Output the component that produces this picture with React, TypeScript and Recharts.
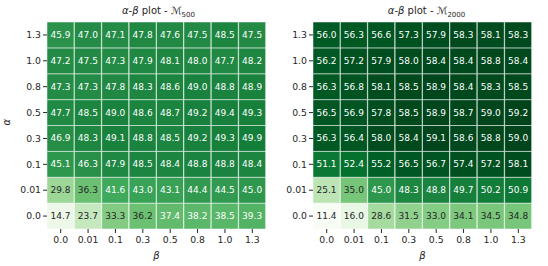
import { BarChart, Bar, Cell, LabelList, XAxis, YAxis } from 'recharts';

// heatmap values, rows from top (alpha = 1.3) to bottom (alpha = 0.0), columns = beta
const betaLabels = ['0.0', '0.01', '0.1', '0.3', '0.5', '0.8', '1.0', '1.3'];
const alphaLabelsTopDown = ['1.3', '1.0', '0.8', '0.5', '0.3', '0.1', '0.01', '0.0'];

const m500 = [
  [45.9, 47.0, 47.1, 47.8, 47.6, 47.5, 48.5, 47.5],
  [47.2, 47.5, 47.3, 47.9, 48.1, 48.0, 47.7, 48.2],
  [47.3, 47.3, 47.8, 48.3, 48.6, 49.0, 48.8, 48.9],
  [47.7, 48.5, 49.0, 48.6, 48.7, 49.2, 49.4, 49.3],
  [46.9, 48.3, 49.1, 48.8, 48.5, 49.2, 49.3, 49.9],
  [45.1, 46.3, 47.9, 48.5, 48.4, 48.8, 48.8, 48.4],
  [29.8, 36.3, 41.6, 43.0, 43.1, 44.4, 44.5, 45.0],
  [14.7, 23.7, 33.3, 36.2, 37.4, 38.2, 38.5, 39.3],
];

const m2000 = [
  [56.0, 56.3, 56.6, 57.3, 57.9, 58.3, 58.1, 58.3],
  [56.2, 57.2, 57.9, 58.0, 58.4, 58.4, 58.8, 58.4],
  [56.3, 56.8, 58.1, 58.5, 58.9, 58.4, 58.3, 58.5],
  [56.5, 56.9, 57.8, 58.5, 58.9, 58.7, 59.0, 59.2],
  [56.3, 56.4, 58.0, 58.4, 59.1, 58.6, 58.8, 59.0],
  [51.1, 52.4, 55.2, 56.5, 56.7, 57.4, 57.2, 58.1],
  [25.1, 35.0, 45.0, 48.3, 48.8, 49.7, 50.2, 50.9],
  [11.4, 16.0, 28.6, 31.5, 33.0, 34.1, 34.5, 34.8],
];

const GREENS = ['#f7fcf5', '#e5f5e0', '#c7e9c0', '#a1d99b', '#74c476', '#41ab5d', '#238b45', '#006d2c', '#00441b'];

const allVals = [...m500.flat(), ...m2000.flat()];
const VMIN = Math.min(...allVals);
const VMAX = Math.max(...allVals);

const hexToRgb = (h: string) => [1, 3, 5].map((i) => parseInt(h.slice(i, i + 2), 16));

const cmap = (v: number) => {
  const t = Math.max(0, Math.min(1, (v - VMIN) / (VMAX - VMIN))) * (GREENS.length - 1);
  const i = Math.min(Math.floor(t), GREENS.length - 2);
  const f = t - i;
  const a = hexToRgb(GREENS[i]);
  const b = hexToRgb(GREENS[i + 1]);
  return a.map((c, k) => Math.round(c + (b[k] - c) * f));
};

const toCss = (rgb: number[]) => `rgb(${rgb[0]},${rgb[1]},${rgb[2]})`;

// same rule seaborn uses for annotation colour
const textColor = (rgb: number[]) => {
  const lin = rgb.map((c) => {
    const s = c / 255;
    return s <= 0.03928 ? s / 12.92 : Math.pow((s + 0.055) / 1.055, 2.4);
  });
  const lum = 0.2126 * lin[0] + 0.7152 * lin[1] + 0.0722 * lin[2];
  return lum > 0.408 ? '#262626' : '#ffffff';
};

// bottom-up stacking: stack 0 = alpha 0.0
const alphaBottomUp = [...alphaLabelsTopDown].reverse();

const buildRows = (m: number[][]) =>
  betaLabels.map((beta, c) => {
    const row: Record<string, string | number> = { beta };
    alphaBottomUp.forEach((_, s) => {
      row[`r${s}`] = 1;
      row[`v${s}`] = m[m.length - 1 - s][c];
    });
    return row;
  });

const font = 'DejaVu Sans, sans-serif';
const tickStyle = { fontSize: 9.3, fill: '#262626', fontFamily: font };

const Heatmap = ({ matrix, yAxisWidth, left }: { matrix: number[][]; yAxisWidth: number; left: number }) => {
  const data = buildRows(matrix);
  return (
    <div style={{ position: 'absolute', left, top: 0 }}>
      <BarChart
        width={270 + (yAxisWidth - 47)}
        height={266}
        data={data}
        margin={{ top: 22, right: 4, bottom: 0, left: 0 }}
        barCategoryGap={0}
        barGap={0}
      >
        <XAxis
          dataKey="beta"
          axisLine={false}
          tickLine={{ stroke: '#262626' }}
          tickSize={4}
          tick={{ ...tickStyle, dy: 1 }}
          height={37}
          interval={0}
          label={{ value: 'β', position: 'insideBottom', offset: 7, style: { fontSize: 10, fontStyle: 'italic', fill: '#262626', fontFamily: font } }}
        />
        <YAxis
          type="number"
          domain={[0, 8]}
          ticks={alphaBottomUp.map((_, i) => i + 0.5)}
          tickFormatter={(v: number) => alphaBottomUp[Math.floor(v)]}
          axisLine={false}
          tickLine={{ stroke: '#262626' }}
          tickSize={4}
          tick={tickStyle}
          width={yAxisWidth}
          interval={0}
          label={yAxisWidth > 42 ? { value: 'α', angle: -90, position: 'insideLeft', offset: 6, style: { fontSize: 10, fontStyle: 'italic', fill: '#262626', fontFamily: font } } : undefined}
        />
        {alphaBottomUp.map((_, s) => (
          <Bar key={s} dataKey={`r${s}`} stackId="a" isAnimationActive={false} stroke="#ffffff" strokeOpacity={0.7} strokeWidth={0.7}>
            {data.map((row, c) => (
              <Cell key={c} fill={toCss(cmap(row[`v${s}`] as number))} />
            ))}
            <LabelList
              dataKey={`v${s}`}
              content={(p: any) => {
                const v = Number(p.value);
                return (
                  <text
                    x={p.x + p.width / 2}
                    y={p.y + p.height / 2}
                    textAnchor="middle"
                    dominantBaseline="central"
                    fontSize={9}
                    fontFamily={font}
                    fill={textColor(cmap(v))}
                  >
                    {v.toFixed(1)}
                  </text>
                );
              }}
            />
          </Bar>
        ))}
      </BarChart>
    </div>
  );
};

const Title = ({ center, sub }: { center: number; sub: string }) => (
  <div
    style={{
      position: 'absolute',
      left: center - 80,
      width: 160,
      top: 5,
      textAlign: 'center',
      fontFamily: font,
      fontSize: 10,
      color: '#262626',
      whiteSpace: 'nowrap',
    }}
  >
    <i>α</i>-<i>β</i> plot - ℳ<sub style={{ fontSize: 7 }}>{sub}</sub>
  </div>
);

const App = () => (
  <div style={{ position: 'absolute', left: 0, top: 0, width: 548, height: 266, background: '#ffffff', overflow: 'hidden' }}>
    <Heatmap matrix={m500} yAxisWidth={47} left={0} />
    <Heatmap matrix={m2000} yAxisWidth={39} left={274} />
    <Title center={158.5} sub="500" />
    <Title center={426.5} sub="2000" />
  </div>
);

export default App;
